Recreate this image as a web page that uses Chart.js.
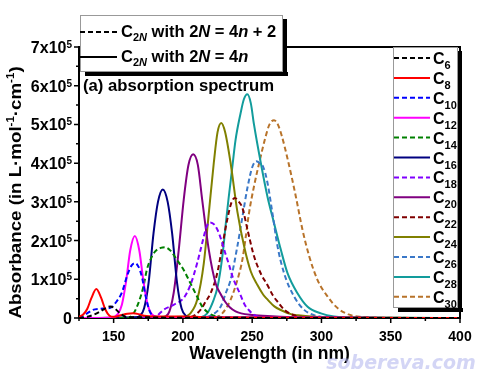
<!DOCTYPE html>
<html>
<head>
<meta charset="utf-8">
<script src="https://cdn.jsdelivr.net/npm/chart.js@4.4.1/dist/chart.umd.min.js"></script>
<style>
html, body { margin: 0; padding: 0; background: #fff; }
canvas { display: block; }
</style>
</head>
<body>
<canvas id="spectrum" width="478" height="375"></canvas>
<script>
// wavelength in nm, absorbance in units of 1x10^5 L/mol/cm
let c6X = [125, 131, 136, 140, 144, 147.5, 151, 154, 157, 160, 170, 185, 220, 400]
let c6Y = [0, 0.03, 0.09, 0.16, 0.25, 0.3, 0.24, 0.14, 0.06, 0.02, 0.02, 0.01, 0.005, 0]
let c8X = [125, 128, 131, 134, 137.5, 141, 144, 147, 150, 155, 160, 164, 168, 172, 180, 200, 215, 240, 400]
let c8Y = [0.03, 0.09, 0.24, 0.52, 0.75, 0.52, 0.22, 0.06, 0.03, 0.07, 0.11, 0.12, 0.1, 0.06, 0.04, 0.04, 0.02, 0.01, 0]
let c10X = [125, 130, 135, 140, 145, 148.5, 152, 156, 160, 163, 165.6, 168, 170.5, 173, 176, 180, 190, 400]
let c10Y = [0, 0.1, 0.21, 0.24, 0.25, 0.28, 0.42, 0.66, 1.12, 1.36, 1.42, 1.32, 1.05, 0.58, 0.18, 0.03, 0.01, 0]
let c12X = [125, 140, 148, 153, 156, 159, 162, 165.3, 168.5, 171.5, 174.5, 177.5, 182, 200, 230, 400]
let c12Y = [0, 0, 0.01, 0.1, 0.35, 0.95, 1.75, 2.12, 1.75, 0.95, 0.35, 0.1, 0.03, 0.02, 0.01, 0]
let c14X = [125, 160, 164, 167.8, 171.4, 174, 176.5, 180, 184, 187, 191, 195.8, 200.6, 205.4, 210.3, 214, 220, 226, 240, 400]
let c14Y = [0, 0, 0.1, 0.38, 0.8, 1.25, 1.5, 1.72, 1.81, 1.83, 1.74, 1.5, 1.24, 0.9, 0.55, 0.29, 0.1, 0.03, 0.01, 0]
let c16X = [125, 166, 169, 172, 175.2, 178.8, 182, 185.5, 189, 192.2, 195.8, 199, 202, 206, 220, 400]
let c16Y = [0, 0.02, 0.06, 0.25, 0.9, 2.19, 3.0, 3.32, 3.0, 2.19, 0.9, 0.25, 0.06, 0.02, 0.01, 0]
let c18X = [125, 176, 181, 186, 193.3, 200.6, 205.4, 210.3, 213.9, 217, 219.5, 222.5, 225.9, 230.8, 233.5, 236, 241, 244.5, 247.7, 251.3, 256, 270, 400]
let c18Y = [0, 0, 0.05, 0.21, 0.34, 0.52, 0.85, 1.42, 1.93, 2.35, 2.47, 2.42, 2.2, 1.65, 1.35, 1.05, 0.64, 0.35, 0.2, 0.08, 0.03, 0.01, 0]
let c20X = [125, 185, 189.3, 193.3, 197, 200.6, 204, 207.4, 210.8, 213.9, 218.7, 223.6, 227.2, 230.5, 234, 238, 242, 250, 261, 280, 300, 400]
let c20Y = [0, 0.02, 0.1, 0.64, 1.76, 3.06, 3.95, 4.23, 3.95, 3.06, 1.76, 0.9, 0.62, 0.42, 0.27, 0.17, 0.12, 0.08, 0.05, 0.02, 0.01, 0]
let c22X = [125, 205, 212.7, 216, 220, 224.8, 228.4, 232, 235, 237.5, 240, 242.9, 246.5, 251.3, 256.2, 261, 265, 268.3, 273, 278, 285, 300, 400]
let c22Y = [0, 0.02, 0.21, 0.4, 0.64, 1.16, 1.85, 2.54, 2.98, 3.1, 3.02, 2.85, 2.3, 1.6, 1.15, 0.85, 0.58, 0.42, 0.22, 0.1, 0.03, 0.01, 0]
let c24X = [125, 200, 205.4, 210.3, 215.1, 218.7, 222.3, 225, 227.7, 230.5, 234.4, 239.3, 244.5, 249, 253.8, 258, 261, 266, 271, 278, 283, 295, 310, 400]
let c24Y = [0, 0.03, 0.12, 0.47, 1.42, 2.71, 4.01, 4.8, 5.04, 4.8, 4.01, 2.75, 1.8, 1.2, 0.85, 0.6, 0.48, 0.3, 0.2, 0.1, 0.07, 0.03, 0.01, 0]
let c26X = [125, 215, 222, 227.2, 231, 234.4, 239.3, 242.9, 246.5, 250.1, 253, 256, 258, 261, 264.6, 268.3, 273, 280.3, 287.5, 297, 310, 400]
let c26Y = [0, 0.02, 0.1, 0.29, 0.65, 0.98, 1.85, 2.6, 3.35, 3.9, 4.05, 3.98, 3.9, 3.5, 2.71, 1.85, 1.16, 0.55, 0.21, 0.05, 0.01, 0]
let c28X = [125, 212, 217.5, 222, 225, 228.5, 231, 233, 235.5, 238, 241.7, 244, 246.5, 249, 251.3, 256.2, 261, 265.8, 270.7, 275.5, 282.7, 290, 299.6, 309, 320, 400]
let c28Y = [0, 0.02, 0.12, 0.45, 0.8, 1.6, 2.45, 3.1, 3.85, 4.6, 5.3, 5.65, 5.78, 5.55, 5.0, 4.01, 3.14, 2.45, 1.76, 1.16, 0.64, 0.29, 0.12, 0.04, 0.01, 0]
let c30X = [125, 222, 228.4, 234.4, 239.3, 242.9, 245, 247.7, 251.3, 256.2, 259.8, 262.5, 265.8, 268.5, 271.4, 276.2, 281.5, 286.3, 291.2, 297.2, 304.5, 311.8, 319, 328, 340, 400]
let c30Y = [0, 0.02, 0.12, 0.47, 0.98, 1.5, 2.0, 2.71, 3.4, 4.18, 4.7, 5.0, 5.11, 5.0, 4.7, 4.01, 3.14, 2.28, 1.59, 0.98, 0.55, 0.25, 0.1, 0.03, 0.01, 0]

let chainSizes = [6, 8, 10, 12, 14, 16, 18, 20, 22, 24, 26, 28, 30]
let seriesX = [c6X, c8X, c10X, c12X, c14X, c16X, c18X, c20X, c22X, c24X, c26X, c28X, c30X]
let seriesY = [c6Y, c8Y, c10Y, c12Y, c14Y, c16Y, c18Y, c20Y, c22Y, c24Y, c26Y, c28Y, c30Y]
let lineColors = ['#000000', '#ff0000', '#0000ff', '#ff00ff', '#008000', '#000080', '#8000ff',
  '#800080', '#800000', '#808000', '#3a78c8', '#129c9c', '#b8732a']

let xMajor = [150, 200, 250, 300, 350, 400]
let xMinor = [125, 175, 225, 275, 325, 375]
let yMajor = [0, 1, 2, 3, 4, 5, 6, 7]
let yMinor = [0.5, 1.5, 2.5, 3.5, 4.5, 5.5, 6.5]
let yTickText = ['0', '1x10', '2x10', '3x10', '4x10', '5x10', '6x10', '7x10']

const FAMILY = '"Liberation Sans", Arial, sans-serif'
const DASH = [5, 3]

function isDashed(n) { return n % 4 === 2 }

function fontOf(r) {
  return (r.it ? 'italic ' : '') + 'bold ' + r.s + 'px ' + FAMILY
}

function runsWidth(ctx, runs) {
  let w = 0
  runs.forEach(r => { ctx.font = fontOf(r); w += ctx.measureText(r.t).width })
  return w
}

// draws a row of text pieces (sub/superscripts via dy), y is the baseline
function drawRuns(ctx, runs, x, y, align) {
  let w = runsWidth(ctx, runs)
  let cx = align === 'right' ? x - w : align === 'center' ? x - w / 2 : x
  runs.forEach(r => {
    ctx.font = fontOf(r)
    ctx.fillText(r.t, cx, y + (r.dy || 0))
    cx += ctx.measureText(r.t).width
  })
}

function sampleLine(ctx, x1, x2, y, color, dashed) {
  ctx.save()
  ctx.strokeStyle = color
  ctx.lineWidth = 2
  ctx.setLineDash(dashed ? DASH : [])
  ctx.beginPath()
  ctx.moveTo(x1, y)
  ctx.lineTo(x2, y)
  ctx.stroke()
  ctx.restore()
}

function shadowBox(ctx, x, y, w, h) {
  ctx.fillStyle = '#000'
  ctx.fillRect(x + 5, y + h, w, 4)
  ctx.fillRect(x + w, y + 4, 4, h)
  ctx.fillStyle = '#fff'
  ctx.fillRect(x, y, w, h)
  ctx.strokeStyle = '#999'
  ctx.lineWidth = 1
  ctx.strokeRect(x + 0.5, y + 0.5, w - 1, h - 1)
}

let decorations = {
  id: 'decorations',
  afterDraw(chart) {
    let ctx = chart.ctx
    let xs = chart.scales.x
    let ys = chart.scales.y
    let area = chart.chartArea
    ctx.save()

    // top and right frame lines
    ctx.strokeStyle = '#000'
    ctx.lineWidth = 2
    ctx.beginPath()
    ctx.moveTo(area.left, area.top)
    ctx.lineTo(area.right, area.top)
    ctx.lineTo(area.right, area.bottom)
    ctx.stroke()

    // ticks
    ctx.lineWidth = 1.5
    ctx.beginPath()
    xMajor.forEach(v => { let p = xs.getPixelForValue(v); ctx.moveTo(p, area.bottom); ctx.lineTo(p, area.bottom + 5) })
    xMinor.forEach(v => { let p = xs.getPixelForValue(v); ctx.moveTo(p, area.bottom); ctx.lineTo(p, area.bottom + 3) })
    yMajor.forEach(v => { let p = ys.getPixelForValue(v); ctx.moveTo(area.left, p); ctx.lineTo(area.left - 5, p) })
    yMinor.forEach(v => { let p = ys.getPixelForValue(v); ctx.moveTo(area.left, p); ctx.lineTo(area.left - 3, p) })
    ctx.stroke()

    ctx.fillStyle = '#000'
    ctx.textBaseline = 'alphabetic'
    ctx.textAlign = 'left'

    // y tick labels with superscript
    yMajor.forEach((v, i) => {
      let p = ys.getPixelForValue(v)
      let runs = [{t: yTickText[i], s: 16}]
      if (v !== 0) runs.push({t: '5', s: 10, dy: -5})
      drawRuns(ctx, runs, 72, p + 6, 'right')
    })

    // axis titles
    drawRuns(ctx, [{t: 'Wavelength (in nm)', s: 17.5}], (area.left + area.right) / 2, 359, 'center')
    ctx.save()
    ctx.translate(20.5, 192.5)
    ctx.rotate(-Math.PI / 2)
    ctx.scale(1.1, 1)
    drawRuns(ctx, [
      {t: 'Absorbance (in L\u00b7mol', s: 17},
      {t: '-1', s: 10.5, dy: -7},
      {t: '\u00b7cm', s: 17},
      {t: '-1', s: 10.5, dy: -7},
      {t: ')', s: 17}
    ], 0, 0, 'center')
    ctx.restore()

    // panel label
    drawRuns(ctx, [{t: '(a) absorption spectrum', s: 16.7}], 83, 91, 'left')

    // legend for the two families
    shadowBox(ctx, 80, 15, 203, 57)
    ctx.fillStyle = '#000'
    sampleLine(ctx, 80, 117, 32, '#000', true)
    sampleLine(ctx, 80, 117, 57, '#000', false)
    drawRuns(ctx, [
      {t: 'C', s: 16.5}, {t: '2', s: 11, dy: 4}, {t: 'N', s: 11, it: true, dy: 4},
      {t: ' with 2', s: 16.5}, {t: 'N', s: 16.5, it: true}, {t: ' = 4', s: 16.5},
      {t: 'n', s: 16.5, it: true}, {t: ' + 2', s: 16.5}
    ], 121, 37, 'left')
    drawRuns(ctx, [
      {t: 'C', s: 16.5}, {t: '2', s: 11, dy: 4}, {t: 'N', s: 11, it: true, dy: 4},
      {t: ' with 2', s: 16.5}, {t: 'N', s: 16.5, it: true}, {t: ' = 4', s: 16.5},
      {t: 'n', s: 16.5, it: true}
    ], 121, 62, 'left')

    // legend for each chain
    shadowBox(ctx, 393, 47, 65, 261)
    chainSizes.forEach((n, i) => {
      let y = 58 + i * 19.9
      sampleLine(ctx, 394, 430, y, lineColors[i], isDashed(n))
      ctx.fillStyle = '#000'
      drawRuns(ctx, [{t: 'C', s: 16}, {t: String(n), s: 11, dy: 5}], 433, y + 6, 'left')
    })

    // watermark
    ctx.font = 'italic bold 19px "DejaVu Sans", sans-serif'
    ctx.fillStyle = 'rgba(175, 178, 236, 0.55)'
    ctx.textAlign = 'center'
    ctx.fillText('sobereva.com', 401, 369)
    ctx.restore()
  }
}

let datasets = chainSizes.map((n, i) => ({
  label: 'C' + n,
  data: seriesX[i].map((x, j) => ({x: x, y: seriesY[i][j]})),
  borderColor: lineColors[i],
  borderWidth: 2,
  borderDash: isDashed(n) ? DASH : [],
  pointRadius: 0,
  cubicInterpolationMode: 'monotone',
  fill: false
}))

let spectrumChart = new Chart(document.getElementById('spectrum').getContext('2d'), {
  type: 'line',
  data: { datasets: datasets },
  options: {
    responsive: false,
    animation: false,
    devicePixelRatio: 1,
    layout: { padding: { top: 47, right: 18, left: 0, bottom: 0 } },
    plugins: { legend: { display: false }, tooltip: { enabled: false } },
    scales: {
      x: {
        type: 'linear',
        min: 125,
        max: 400,
        grid: { display: false },
        border: { display: true, color: '#000', width: 2 },
        ticks: {
          stepSize: 50,
          includeBounds: false,
          autoSkip: false,
          maxRotation: 0,
          padding: 3,
          color: '#000',
          font: { family: FAMILY, size: 14, weight: 'bold' }
        },
        afterFit(scale) { scale.height = 57 }
      },
      y: {
        min: 0,
        max: 7,
        grid: { display: false },
        border: { display: true, color: '#000', width: 2 },
        ticks: { display: false, stepSize: 1 },
        afterFit(scale) { scale.width = 79 }
      }
    }
  },
  plugins: [decorations]
})
</script>
</body>
</html>
